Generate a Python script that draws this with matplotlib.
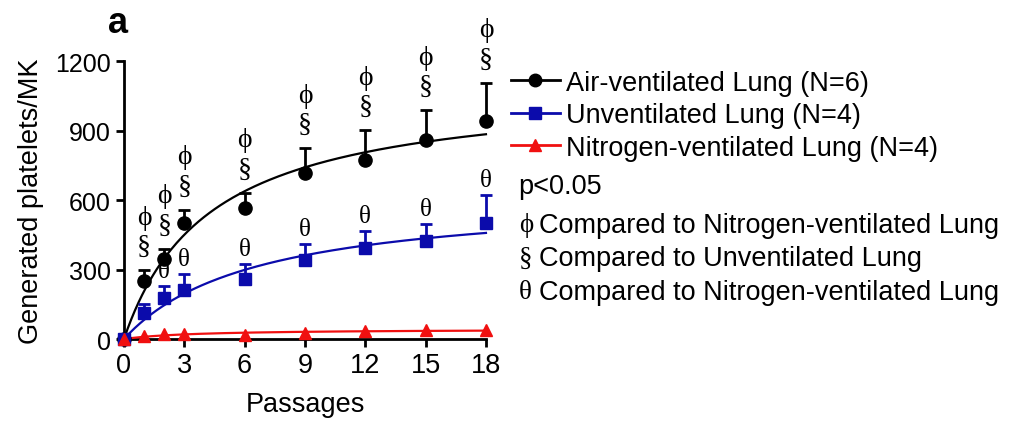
import numpy as np
import matplotlib.pyplot as plt
from matplotlib.lines import Line2D

plt.rcParams['font.family'] = ['Liberation Sans', 'DejaVu Sans']

passages = [0, 1, 2, 3, 6, 9, 12, 15, 18]

air = [0, 250, 345, 502, 566, 717, 772, 861, 942]
air_err = [0, 48, 45, 57, 66, 106, 130, 127, 165]

unvent = [0, 112, 177, 211, 257, 340, 393, 422, 502]
unvent_err = [0, 40, 50, 68, 66, 69, 72, 75, 119]

nitro = [0, 12, 20, 22, 18, 28, 34, 37, 40]
nitro_err = [0, 0, 0, 0, 0, 0, 0, 0, 0]

air_marks = [False, True, True, True, True, True, True, True, True]
unvent_marks = [False, False, True, True, True, True, True, True, True]

series_labels = ['Air-ventilated Lung (N=6)', 'Unventilated Lung (N=4)',
                 'Nitrogen-ventilated Lung (N=4)']
note_title = 'p<0.05'
note_syms = ['\u03d5', '\u00a7', '\u03b8']
note_texts = ['Compared to Nitrogen-ventilated Lung', 'Compared to Unventilated Lung',
              'Compared to Nitrogen-ventilated Lung']

BLUE = '#0b0bab'
RED = '#f01010'
serif = ['Liberation Serif', 'DejaVu Serif']
FS = 19.5


def hyper_fit(x, y):
    # one-site hyperbola y = Vmax*x/(K+x), least squares over K grid
    x = np.asarray(x, float)
    y = np.asarray(y, float)
    best = None
    for k in np.linspace(0.1, 30, 3000):
        g = x / (k + x)
        vm = (g @ y) / (g @ g)
        r = np.sum((y - vm * g) ** 2)
        if best is None or r < best[0]:
            best = (r, vm, k)
    return best[1], best[2]


fig = plt.figure(figsize=(10.12, 4.27), dpi=100)
ax = fig.add_axes([0.1225, 0.2037, 0.3577, 0.6511])

xs = np.linspace(0, 18, 200)
for y, e, c, m, ms in [(air, air_err, 'black', 'o', 9.5),
                       (unvent, unvent_err, BLUE, 's', 8.5),
                       (nitro, nitro_err, RED, '^', 9)]:
    vm, k = hyper_fit(passages, y)
    ax.plot(xs, vm * xs / (k + xs), color=c, lw=1.6, clip_on=False, zorder=3)
    if any(e):
        ax.errorbar(passages, y, yerr=[np.zeros(len(e)), e], fmt='none',
                    ecolor=c, elinewidth=2, capsize=4.5, capthick=2,
                    clip_on=False, zorder=4)
    ax.plot(passages, y, ls='none', marker=m, ms=ms, color=c,
            clip_on=False, zorder=5)

for x, y, e, f in zip(passages, air, air_err, air_marks):
    if f:
        ax.annotate('\u00a7', (x, y + e), xytext=(0, 17), textcoords='offset points',
                    ha='center', va='center', fontsize=20, family=serif)
        ax.annotate('\u03d5', (x, y + e), xytext=(0, 38), textcoords='offset points',
                    ha='center', va='center', fontsize=20, family=serif)
for x, y, e, f in zip(passages, unvent, unvent_err, unvent_marks):
    if f:
        ax.annotate('\u03b8', (x, y + e), xytext=(0, 11), textcoords='offset points',
                    ha='center', va='center', fontsize=18, family=serif)

ax.set_xlim(0, 18)
ax.set_ylim(0, 1200)
ax.set_xticks([0, 3, 6, 9, 12, 15, 18])
ax.set_yticks([0, 300, 600, 900, 1200])
ax.tick_params(width=2, length=6, direction='out')
ax.tick_params(axis='x', labelsize=FS, pad=3)
ax.tick_params(axis='y', labelsize=18)
for s in ['top', 'right']:
    ax.spines[s].set_visible(False)
for s in ['left', 'bottom']:
    ax.spines[s].set_linewidth(2)
ax.set_xlabel('Passages', fontsize=FS, labelpad=10)
ax.set_ylabel('Generated platelets/MK', fontsize=FS, labelpad=8)

fig.text(0.107, 0.945, 'a', fontsize=26, fontweight='bold', va='center')

handles = [Line2D([], [], color='black', marker='o', ms=9, lw=2),
           Line2D([], [], color=BLUE, marker='s', ms=8.5, lw=2),
           Line2D([], [], color=RED, marker='^', ms=9, lw=2)]
fig.legend(handles, series_labels, loc='upper left', bbox_to_anchor=(0.494, 0.86),
           frameon=False, fontsize=FS, handlelength=1.8, handletextpad=0.25,
           labelspacing=0.24, borderaxespad=0)

fig.text(0.512, 1 - 187 / 427, note_title, fontsize=FS, va='center')
for i, (s, t) in enumerate(zip(note_syms, note_texts)):
    yy = 1 - (226 + 33.5 * i) / 427
    fig.text(0.513, yy, s, fontsize=FS, va='center', family=serif)
    fig.text(0.533, yy, t, fontsize=FS, va='center')

fig.savefig('out.png', dpi=100)
